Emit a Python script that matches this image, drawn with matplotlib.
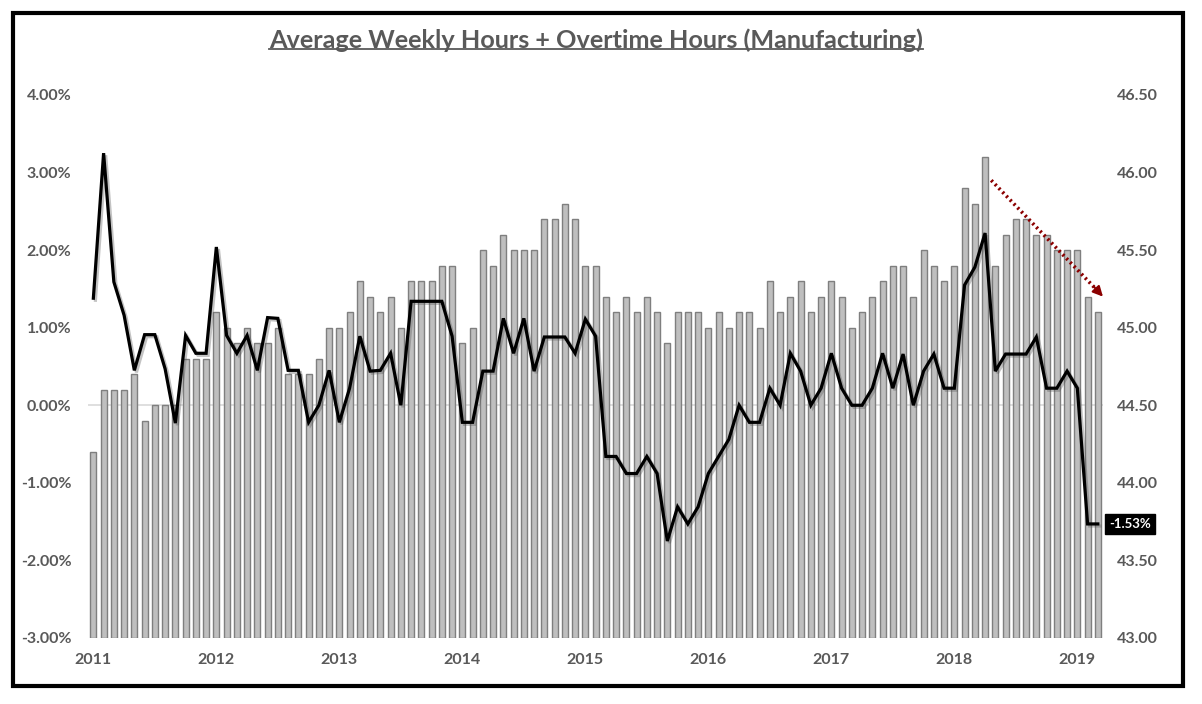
import matplotlib
matplotlib.use("Agg")
import matplotlib.pyplot as plt
import matplotlib.patheffects as pe
from matplotlib.patches import Rectangle
from matplotlib.lines import Line2D
import numpy as np

plt.rcParams['font.family'] = ['Lato', 'DejaVu Sans']

# monthly, Jan 2011 .. Mar 2019
hours = [
    44.2, 44.6, 44.6, 44.6, 44.7, 44.4, 44.5, 44.5, 44.5, 44.8, 44.8, 44.8,  # 2011
    45.1, 45.0, 44.9, 45.0, 44.9, 44.9, 45.0, 44.7, 44.7, 44.7, 44.8, 45.0,  # 2012
    45.0, 45.1, 45.3, 45.2, 45.1, 45.2, 45.0, 45.3, 45.3, 45.3, 45.4, 45.4,  # 2013
    44.9, 45.0, 45.5, 45.4, 45.6, 45.5, 45.5, 45.5, 45.7, 45.7, 45.8, 45.7,  # 2014
    45.4, 45.4, 45.2, 45.1, 45.2, 45.1, 45.2, 45.1, 44.9, 45.1, 45.1, 45.1,  # 2015
    45.0, 45.1, 45.0, 45.1, 45.1, 45.0, 45.3, 45.1, 45.2, 45.3, 45.1, 45.2,  # 2016
    45.3, 45.2, 45.0, 45.1, 45.2, 45.3, 45.4, 45.4, 45.2, 45.5, 45.4, 45.3,  # 2017
    45.4, 45.9, 45.8, 46.1, 45.4, 45.6, 45.7, 45.7, 45.6, 45.6, 45.5, 45.5,  # 2018
    45.5, 45.2, 45.1,                                                        # 2019
]

yoy_pct = [
    1.38, 3.25, 1.59, 1.16, 0.45, 0.91, 0.91, 0.47, -0.23, 0.90, 0.67, 0.67,
    2.04, 0.90, 0.67, 0.90, 0.45, 1.13, 1.12, 0.45, 0.45, -0.22, 0.00, 0.45,
    -0.22, 0.22, 0.89, 0.44, 0.45, 0.67, 0.00, 1.34, 1.34, 1.34, 1.34, 0.89,
    -0.22, -0.22, 0.44, 0.44, 1.12, 0.67, 1.12, 0.44, 0.88, 0.88, 0.88, 0.67,
    1.11, 0.89, -0.66, -0.66, -0.88, -0.88, -0.66, -0.88, -1.75, -1.31, -1.53, -1.31,
    -0.88, -0.66, -0.44, 0.00, -0.22, -0.22, 0.22, 0.00, 0.67, 0.44, 0.00, 0.22,
    0.67, 0.22, 0.00, 0.00, 0.22, 0.67, 0.22, 0.66, 0.00, 0.44, 0.66, 0.22,
    0.22, 1.55, 1.78, 2.22, 0.44, 0.66, 0.66, 0.66, 0.88, 0.22, 0.22, 0.44,
    0.22, -1.53, -1.53,
]

year_labels = ['2011', '2012', '2013', '2014', '2015', '2016', '2017', '2018', '2019']
last_label = '-1.53%'

txt = '#595959'
x = np.arange(len(hours))

fig = plt.figure(figsize=(12.02, 7.04), dpi=100)
ax = fig.add_axes([0.0734, 0.0938, 0.8442, 0.7713])
ax2 = ax.twinx()

# bars on right axis (hours)
ax2.axhline(44.5, color='#d9d9d9', lw=1.2, zorder=0)
ax2.bar(x, np.array(hours) - 43, bottom=43, width=0.6, color='#bfbfbf',
        edgecolor='#7f7f7f', linewidth=1.0, zorder=2)
ax2.set_ylim(43, 46.5)
ax2.set_yticks(np.arange(43, 46.51, 0.5))
ax2.set_yticklabels([f'{v:.2f}' for v in np.arange(43, 46.51, 0.5)])

# line on left axis (% yoy), drawn above the bars
ax.set_zorder(ax2.get_zorder() + 1)
ax.patch.set_visible(False)
ax.plot(x, yoy_pct, color='black', lw=2.3, solid_joinstyle='miter',
        path_effects=[pe.SimpleLineShadow(offset=(1.5, -1.5), shadow_color='#555555', alpha=0.35),
                      pe.Normal()])
ax.set_ylim(-3, 4)
ax.set_yticks(np.arange(-3, 4.01, 1))
ax.set_yticklabels([f'{v:.2f}%' for v in np.arange(-3, 4.01, 1)])
ax.set_xlim(-0.5, len(hours) - 0.5)
ax.set_xticks(np.arange(0, len(hours), 12))
ax.set_xticklabels(year_labels)

for a in (ax, ax2):
    for s in a.spines.values():
        s.set_visible(False)
    a.tick_params(length=0, labelsize=11.5, labelcolor=txt)
    for lab in a.get_yticklabels() + a.get_xticklabels():
        lab.set_fontweight('bold')
ax.tick_params(axis='y', pad=12)
ax.tick_params(axis='x', pad=11)
ax2.tick_params(axis='y', pad=10)

# end label
ax.annotate(last_label, xy=(x[-1], yoy_pct[-1]), xytext=(8, 0), textcoords='offset points',
            ha='left', va='center', color='white', fontsize=9.5, fontweight='bold',
            bbox=dict(boxstyle='square,pad=0.3', fc='black', ec='black'))

# dotted trend arrow: dotted shaft + solid head
ax.plot([87.6, 97.8], [2.90, 1.50], color='#8b0000', lw=2.6, ls=(0, (0.6, 0.9)),
        solid_capstyle='butt', dash_capstyle='butt', clip_on=False)
ax.annotate('', xy=(98.5, 1.40), xytext=(97.6, 1.53),
            arrowprops=dict(arrowstyle='-|>,head_length=0.6,head_width=0.3', color='#8b0000',
                            lw=1.5, shrinkA=0, shrinkB=0))

title = fig.text(0.496, 0.943, 'Average Weekly Hours + Overtime Hours (Manufacturing)',
                 ha='center', va='center', fontsize=18.2, fontweight='bold', color=txt)

# outer frame
fig.add_artist(Rectangle((13 / 1202, 1 - 686 / 704), (1183 - 13) / 1202, (686 - 13) / 704,
                         transform=fig.transFigure, fill=False, ec='black', lw=3))

# underline the title
fig.canvas.draw()
bb = title.get_window_extent(fig.canvas.get_renderer())
uy = (bb.y0 + 0.12 * bb.height) / fig.bbox.height
fig.add_artist(Line2D([bb.x0 / fig.bbox.width, bb.x1 / fig.bbox.width], [uy, uy],
                      transform=fig.transFigure, color=txt, lw=1.3))

fig.savefig('out.png', dpi=100)
